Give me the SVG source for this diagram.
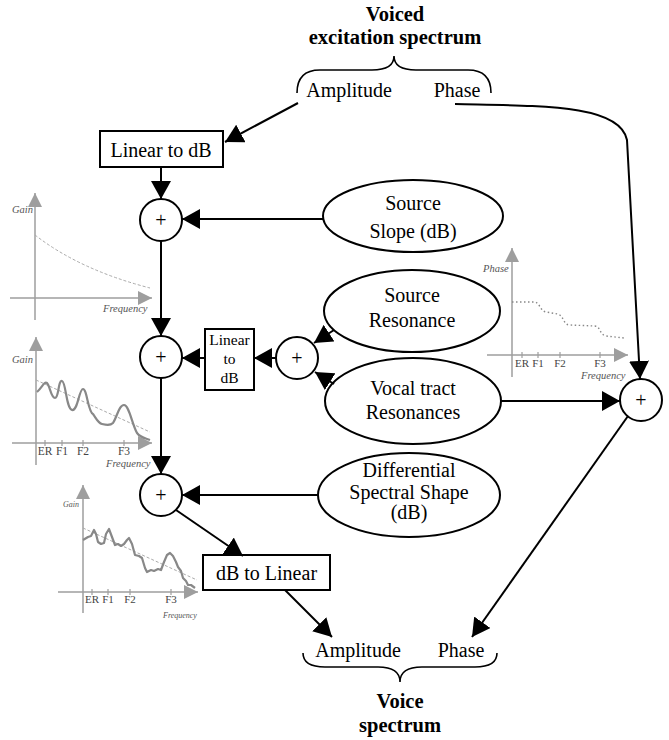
<svg xmlns="http://www.w3.org/2000/svg" width="669" height="740" viewBox="0 0 669 740">
  <style>
    .t { font-family: "Liberation Serif", "Times New Roman", serif; fill: #000; }
    .b { font-weight: bold; font-size: 20.5px; }
    .r { font-size: 20px; }
    .s { font-size: 15.5px; }
    .node { fill: #fff; stroke: #000; stroke-width: 2; }
    .conn { fill: none; stroke: #000; stroke-width: 2; marker-end: url(#ah); }
    .brace { fill: none; stroke: #000; stroke-width: 1.6; }
    .axis { fill: none; stroke: #9e9e9e; stroke-width: 1.5; }
    .axa { fill: none; stroke: #9e9e9e; stroke-width: 1.5; marker-end: url(#ga); }
    .tick { stroke: #9e9e9e; stroke-width: 1.2; }
    .curve { fill: none; stroke: #888; stroke-width: 2.2; stroke-linejoin: round; }
    .dash { fill: none; stroke: #aaa; stroke-width: 1; stroke-dasharray: 3 2; }
    .dot { fill: none; stroke: #888; stroke-width: 1.4; stroke-dasharray: 1.5 2.5; }
    .gl { font-family: "Liberation Serif", "Times New Roman", serif; font-style: italic; fill: #555; }
    .tk { font-family: "Liberation Serif", "Times New Roman", serif; fill: #444; }
  </style>
  <defs>
    <marker id="ah" viewBox="0 0 18 20" refX="18" refY="10" markerWidth="18" markerHeight="20" markerUnits="userSpaceOnUse" orient="auto">
      <path d="M0,0 L18,10 L0,20 Z" fill="#000"/>
    </marker>
    <marker id="ga" viewBox="0 0 14 14" refX="14" refY="7" markerWidth="14" markerHeight="14" markerUnits="userSpaceOnUse" orient="auto">
      <path d="M0,0 L14,7 L0,14 Z" fill="#9e9e9e"/>
    </marker>
  </defs>

  <rect width="669" height="740" fill="#fff"/>

  <!-- Input spectrum heading and brace -->
  <g id="voiced-excitation">
    <text class="t b" x="395" y="21" text-anchor="middle">Voiced</text>
    <text class="t b" x="395" y="44" text-anchor="middle">excitation spectrum</text>
    <path class="brace" d="M297,93 Q297,70 320,70 L372,70 Q394,70 394,56 Q394,70 416,70 L468,70 Q491,70 491,93"/>
    <text class="t r" x="349" y="97" text-anchor="middle">Amplitude</text>
    <text class="t r" x="457" y="97" text-anchor="middle">Phase</text>
  </g>

  <!-- Output spectrum heading and brace -->
  <g id="voice-spectrum">
    <text class="t r" x="358" y="657" text-anchor="middle">Amplitude</text>
    <text class="t r" x="461" y="657" text-anchor="middle">Phase</text>
    <path class="brace" d="M303,653 Q303,667 325,667 L378,667 Q400,667 400,682 Q400,667 422,667 L475,667 Q497,667 497,653"/>
    <text class="t b" x="400" y="708" text-anchor="middle">Voice</text>
    <text class="t b" x="400" y="732" text-anchor="middle">spectrum</text>
  </g>

  <!-- Gain charts -->
  <g id="chart-slope">
    <path class="axa" d="M35,320 L35,193"/>
    <path class="axa" d="M10,298 L152,298"/>
    <path class="dash" d="M35,235 Q80,270 150,288"/>
    <text class="gl" x="12" y="213" font-size="10.5">Gain</text>
    <text class="gl" x="103" y="312" font-size="10.5">Frequency</text>
  </g>

  <g id="chart-resonances">
    <path class="axa" d="M36,465 L36,337"/>
    <path class="axa" d="M12,443 L152,443"/>
    <line class="tick" x1="45" y1="440" x2="45" y2="446"/>
    <line class="tick" x1="62" y1="440" x2="62" y2="446"/>
    <line class="tick" x1="83" y1="440" x2="83" y2="446"/>
    <line class="tick" x1="124" y1="440" x2="124" y2="446"/>
    <path class="dash" d="M36,380 L150,432"/>
    <path class="curve" d="M37,392 C42,388 44,381 47,383 C50,386 51,398 55,398 C59,398 58,380 62,381 C66,382 66,408 72,410 C78,411 79,389 83,389 C87,389 88,412 93,414 C96,418 98,423 102,424 C106,425 110,426 113,423 C117,417 119,405 124,405 C129,405 132,424 137,433 C141,438 145,438 150,440"/>
    <text class="gl" x="12" y="363" font-size="10.5">Gain</text>
    <text class="tk" x="45" y="455" font-size="11.5" text-anchor="middle">ER</text>
    <text class="tk" x="62" y="455" font-size="11.5" text-anchor="middle">F1</text>
    <text class="tk" x="83" y="455" font-size="11.5" text-anchor="middle">F2</text>
    <text class="tk" x="124" y="455" font-size="11.5" text-anchor="middle">F3</text>
    <text class="gl" x="106" y="467" font-size="10.5">Frequency</text>
  </g>

  <g id="chart-final">
    <path class="axa" d="M83,613 L83,485"/>
    <path class="axa" d="M58,592 L198,592"/>
    <line class="tick" x1="92" y1="589" x2="92" y2="595"/>
    <line class="tick" x1="108" y1="589" x2="108" y2="595"/>
    <line class="tick" x1="130" y1="589" x2="130" y2="595"/>
    <line class="tick" x1="171" y1="589" x2="171" y2="595"/>
    <path class="dash" d="M83,528 L197,580"/>
    <path class="curve" d="M83,540 L88,537 L91,536 L94,530 L96,534 L98,542 L101,544 L104,543 L106,534 L109,529 L112,537 L115,545 L118,544 L121,546 L124,544 L127,540 L129,538 L132,544 L135,555 L139,556 L142,558 L145,568 L147,572 L151,570 L154,571 L158,569 L161,570 L164,562 L167,555 L170,553 L173,556 L176,562 L178,567 L181,571 L183,578 L186,581 L188,585 L191,585 L195,588"/>
    <text class="gl" x="63" y="507" font-size="8">Gain</text>
    <text class="tk" x="92" y="603" font-size="11" text-anchor="middle">ER</text>
    <text class="tk" x="108" y="603" font-size="11" text-anchor="middle">F1</text>
    <text class="tk" x="130" y="603" font-size="11" text-anchor="middle">F2</text>
    <text class="tk" x="171" y="603" font-size="11" text-anchor="middle">F3</text>
    <text class="gl" x="163" y="618" font-size="8">Frequency</text>
  </g>

  <g id="chart-phase">
    <path class="axa" d="M512,377 L512,248"/>
    <path class="axa" d="M487,355 L628,355"/>
    <line class="tick" x1="522" y1="352" x2="522" y2="358"/>
    <line class="tick" x1="538" y1="352" x2="538" y2="358"/>
    <line class="tick" x1="560" y1="352" x2="560" y2="358"/>
    <line class="tick" x1="600" y1="352" x2="600" y2="358"/>
    <path class="dot" d="M512,302 L535,302 C540,303 540,311 546,312 L558,314 C564,316 563,325 570,325 L595,326 C601,327 599,334 606,336 L624,338"/>
    <text class="gl" x="483" y="272" font-size="10.5">Phase</text>
    <text class="tk" x="522" y="367" font-size="11" text-anchor="middle">ER</text>
    <text class="tk" x="538" y="367" font-size="11" text-anchor="middle">F1</text>
    <text class="tk" x="560" y="367" font-size="11" text-anchor="middle">F2</text>
    <text class="tk" x="600" y="367" font-size="11" text-anchor="middle">F3</text>
    <text class="gl" x="581" y="379" font-size="10.5">Frequency</text>
  </g>

  <!-- Processing nodes -->
  <g id="lin2db-top">
    <rect class="node" x="100" y="131" width="123" height="36"/>
    <text class="t r" x="161" y="157" text-anchor="middle">Linear to dB</text>
  </g>

  <g id="sum1">
    <circle class="node" cx="161" cy="220" r="21"/>
    <text class="t r" x="161" y="227" text-anchor="middle">+</text>
  </g>

  <g id="sum2">
    <circle class="node" cx="161" cy="357" r="21"/>
    <text class="t r" x="161" y="364" text-anchor="middle">+</text>
  </g>

  <g id="sum3">
    <circle class="node" cx="161" cy="495" r="21"/>
    <text class="t r" x="161" y="502" text-anchor="middle">+</text>
  </g>

  <g id="sum-resonance">
    <circle class="node" cx="297" cy="358" r="21"/>
    <text class="t r" x="297" y="365" text-anchor="middle">+</text>
  </g>

  <g id="sum-phase">
    <circle class="node" cx="641" cy="400" r="21"/>
    <text class="t r" x="641" y="407" text-anchor="middle">+</text>
  </g>

  <g id="lin2db-mid">
    <rect class="node" x="205" y="329" width="49" height="61"/>
    <text class="t s" x="229.5" y="345" text-anchor="middle">Linear</text>
    <text class="t s" x="229.5" y="364" text-anchor="middle">to</text>
    <text class="t s" x="229.5" y="383" text-anchor="middle">dB</text>
  </g>

  <g id="db2lin">
    <rect class="node" x="203" y="555" width="127" height="35"/>
    <text class="t r" x="266.5" y="580" text-anchor="middle">dB to Linear</text>
  </g>

  <g id="source-slope">
    <ellipse class="node" cx="413" cy="216" rx="90" ry="36"/>
    <text class="t r" x="413" y="210" text-anchor="middle">Source</text>
    <text class="t r" x="413" y="238" text-anchor="middle">Slope (dB)</text>
  </g>

  <g id="source-resonance">
    <ellipse class="node" cx="412" cy="311" rx="88" ry="41"/>
    <text class="t r" x="412" y="302" text-anchor="middle">Source</text>
    <text class="t r" x="412" y="327" text-anchor="middle">Resonance</text>
  </g>

  <g id="vocal-tract">
    <ellipse class="node" cx="413" cy="401" rx="88" ry="43"/>
    <text class="t r" x="413" y="395" text-anchor="middle">Vocal tract</text>
    <text class="t r" x="413" y="419" text-anchor="middle">Resonances</text>
  </g>

  <g id="differential-shape">
    <ellipse class="node" cx="409" cy="495" rx="91" ry="42"/>
    <text class="t r" x="409" y="477" text-anchor="middle">Differential</text>
    <text class="t r" x="409" y="499" text-anchor="middle">Spectral Shape</text>
    <text class="t r" x="409" y="519" text-anchor="middle">(dB)</text>
  </g>

  <!-- Connectors -->
  <g id="connectors">
    <path class="conn" d="M298,103 L225,142"/>
    <path class="conn" d="M161,167 L161,199"/>
    <path class="conn" d="M323,219 L182,219"/>
    <path class="conn" d="M161,241 L161,336"/>
    <path class="conn" d="M334,330 L314,343"/>
    <path class="conn" d="M334,384 L315,372"/>
    <path class="conn" d="M276,358 L254,358"/>
    <path class="conn" d="M205,358 L182,358"/>
    <path class="conn" d="M161,378 L161,474"/>
    <path class="conn" d="M318,495 L182,495"/>
    <path class="conn" d="M176,510 L243,556"/>
    <path class="conn" d="M285,590 L332,637"/>
    <path class="conn" d="M455,104 C540,106 620,104 627,140 L640,379"/>
    <path class="conn" d="M501,401 L620,401"/>
    <path class="conn" d="M628,416 L472,637"/>
  </g>
</svg>
